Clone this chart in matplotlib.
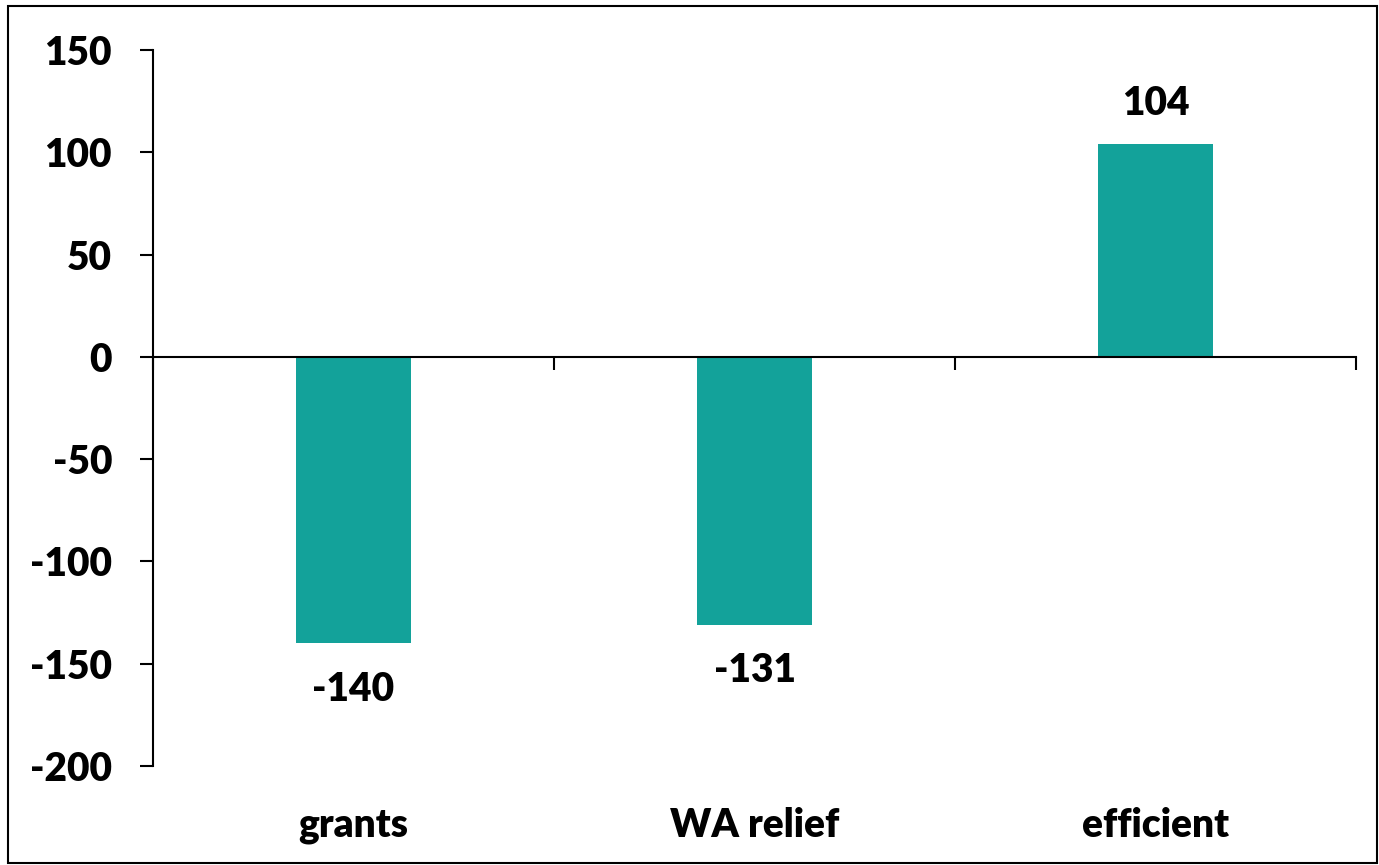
import matplotlib.pyplot as plt
from matplotlib.patches import Rectangle
from matplotlib.transforms import blended_transform_factory

categories = ['grants', 'WA relief', 'efficient']
values = [-140, -131, 104]
yticks = [-200, -150, -100, -50, 0, 50, 100, 150]

plt.rcParams['font.family'] = ['Lato', 'DejaVu Sans']
plt.rcParams['font.weight'] = 'heavy'

fig = plt.figure(figsize=(13.79, 8.65), dpi=100)
W, H = 1379, 865
ax = fig.add_axes([153 / W, 1 - 766 / H, (1356 - 153) / W, (766 - 50) / H])

x = range(len(categories))
ax.bar(x, values, width=0.287, color='#13A29A', zorder=2)

ax.set_xlim(-0.5, 2.5)
ax.set_ylim(-200, 150)
ax.set_yticks(yticks)
ax.set_yticklabels([str(t) for t in yticks], fontsize=28, fontweight='heavy')

# category boundaries as ticks on the zero line
ax.set_xticks([-0.5, 0.5, 1.5, 2.5])
ax.set_xticklabels([])
ax.spines['bottom'].set_position(('data', 0))
ax.spines['top'].set_visible(False)
ax.spines['right'].set_visible(False)
for s in ['left', 'bottom']:
    ax.spines[s].set_linewidth(1.5)
ax.tick_params(axis='both', direction='out', length=9.5, width=1.5, pad=10)
ax.tick_params(axis='y', pad=20)

trans = blended_transform_factory(ax.transData, ax.transAxes)
for i, c in enumerate(categories):
    ax.text(i, -0.083, c, transform=trans, ha='center', va='center',
            fontsize=28, fontweight='heavy')

for i, v in enumerate(values):
    off = 29 if v > 0 else -33
    ax.annotate(str(v), (i, v), xytext=(0, off), textcoords='offset points',
                ha='center', va='center', fontsize=28, fontweight='heavy')

fig.patches.append(Rectangle((8 / W, 2 / H), (W - 10) / W, (H - 8) / H,
                             transform=fig.transFigure, fill=False,
                             edgecolor='black', linewidth=1.5))

fig.savefig('out.png', dpi=100)
